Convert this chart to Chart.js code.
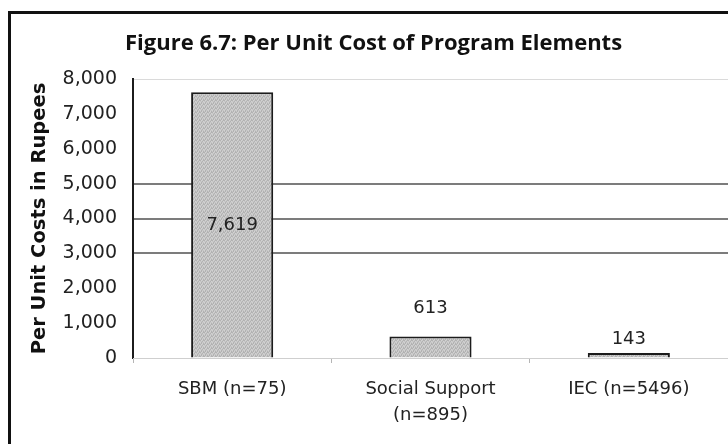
<!DOCTYPE html>
<html>
<head>
<meta charset="utf-8">
<script src="https://cdn.jsdelivr.net/npm/chart.js@4.4.1/dist/chart.umd.min.js"></script>
<style>
    body { margin: 0; background: #fff; }
    #wrap { position: relative; width: 728px; height: 444px; overflow: hidden; }
    #frame { position: absolute; left: 8px; top: 11px; width: 760px; height: 480px; border-left: 3px solid #111; border-top: 3px solid #111; }
    #chart { position: absolute; left: 0; top: 0; }
</style>
</head>
<body>
<div id="wrap">
    <div id="frame"></div>
    <canvas id="chart" width="728" height="444"></canvas>
</div>
<script>
const chartTitle = 'Figure 6.7: Per Unit Cost of Program Elements';
const categories = ['SBM (n=75)', ['Social Support', '(n=895)'], 'IEC (n=5496)'];
const costs = [7619, 613, 143];
const yTicks = [0, 1000, 2000, 3000, 4000, 5000, 6000, 7000, 8000];
const darkGrid = [3000, 4000, 5000];
const lightGrid = [8000];

document.addEventListener("DOMContentLoaded", function() {

    // textura gris punteada de las barras
    const tile = document.createElement('canvas');
    tile.width = 4; tile.height = 4;
    const tctx = tile.getContext('2d');
    tctx.fillStyle = '#c6c6c6'; tctx.fillRect(0, 0, 4, 4);
    tctx.fillStyle = '#b2b2b2';
    [[0, 0], [2, 1], [1, 2], [3, 3], [3, 0], [1, 3]].forEach(p => tctx.fillRect(p[0], p[1], 1, 1));
    tctx.fillStyle = '#d2d2d2';
    [[1, 0], [0, 2], [2, 3], [3, 1]].forEach(p => tctx.fillRect(p[0], p[1], 1, 1));
    const canvas = document.getElementById('chart');
    const barFill = canvas.getContext('2d').createPattern(tile, 'repeat');

    function gridColor(v) {
        if (darkGrid.includes(v)) return '#7c7c7c';
        if (lightGrid.includes(v)) return '#dadada';
        return 'rgba(0,0,0,0)';
    }

    // titulo de la figura
    const titlePlugin = {
        id: 'figTitle',
        afterDraw(chart) {
            const c = chart.ctx;
            c.save();
            c.font = 'bold 22px "Open Sans"';
            c.fillStyle = '#111';
            c.textAlign = 'left';
            c.textBaseline = 'middle';
            c.fillText(chartTitle, 125, 44);
            c.restore();
        }
    };

    // etiquetas de valores
    const labelLift = [null, 28, 14];
    const valueLabels = {
        id: 'valueLabels',
        afterDatasetsDraw(chart) {
            const c = chart.ctx;
            const meta = chart.getDatasetMeta(0);
            c.save();
            c.font = '18px "DejaVu Sans"';
            c.fillStyle = '#222';
            c.textAlign = 'center';
            c.textBaseline = 'middle';
            meta.data.forEach((bar, i) => {
                const txt = Number(costs[i]).toLocaleString('en-US');
                const ty = labelLift[i] === null ? (bar.y + bar.base) / 2 : bar.y - labelLift[i];
                c.fillText(txt, bar.x, ty);
            });
            c.restore();
        }
    };

    new Chart(canvas.getContext('2d'), {
        type: 'bar',
        data: {
            labels: categories,
            datasets: [{
                label: 'Per Unit Costs in Rupees',
                data: costs,
                backgroundColor: barFill,
                borderColor: '#1c1c1c',
                borderWidth: 2,
                borderSkipped: 'bottom',
                categoryPercentage: 1,
                barPercentage: 0.414
            }]
        },
        options: {
            responsive: false,
            animation: false,
            layout: { padding: { left: 0, top: 79, right: 0, bottom: 0 } },
            plugins: {
                legend: { display: false },
                tooltip: { enabled: false },
                title: { display: false }
            },
            scales: {
                y: {
                    min: 0, max: 8000,
                    afterFit: s => { s.width = 133; },
                    afterBuildTicks: s => { s.ticks = yTicks.map(v => ({ value: v })); },
                    ticks: {
                        padding: 16,
                        color: '#222',
                        font: { family: 'DejaVu Sans', size: 19 },
                        callback: v => Number(v).toLocaleString('en-US')
                    },
                    grid: {
                        drawTicks: false,
                        color: ctx => gridColor(ctx.tick.value),
                        lineWidth: ctx => darkGrid.includes(ctx.tick.value) ? 2 : 1
                    },
                    border: { color: '#1c1c1c', width: 2 },
                    title: {
                        display: true,
                        text: 'Per Unit Costs in Rupees',
                        color: '#111',
                        font: { family: 'DejaVu Sans', size: 19.5, weight: 'bold' },
                        padding: { top: 28, bottom: 0 }
                    }
                },
                x: {
                    afterFit: s => { s.height = 86; },
                    ticks: {
                        padding: 13,
                        color: '#222',
                        font: { family: 'DejaVu Sans', size: 18, lineHeight: 1.45 }
                    },
                    grid: { offset: true, drawOnChartArea: false, tickLength: 5, color: '#b5b5b5' },
                    border: { color: '#cfcfcf', width: 1, dash: [3, 3] }
                }
            }
        },
        plugins: [titlePlugin, valueLabels]
    });
});
</script>
</body>
</html>
